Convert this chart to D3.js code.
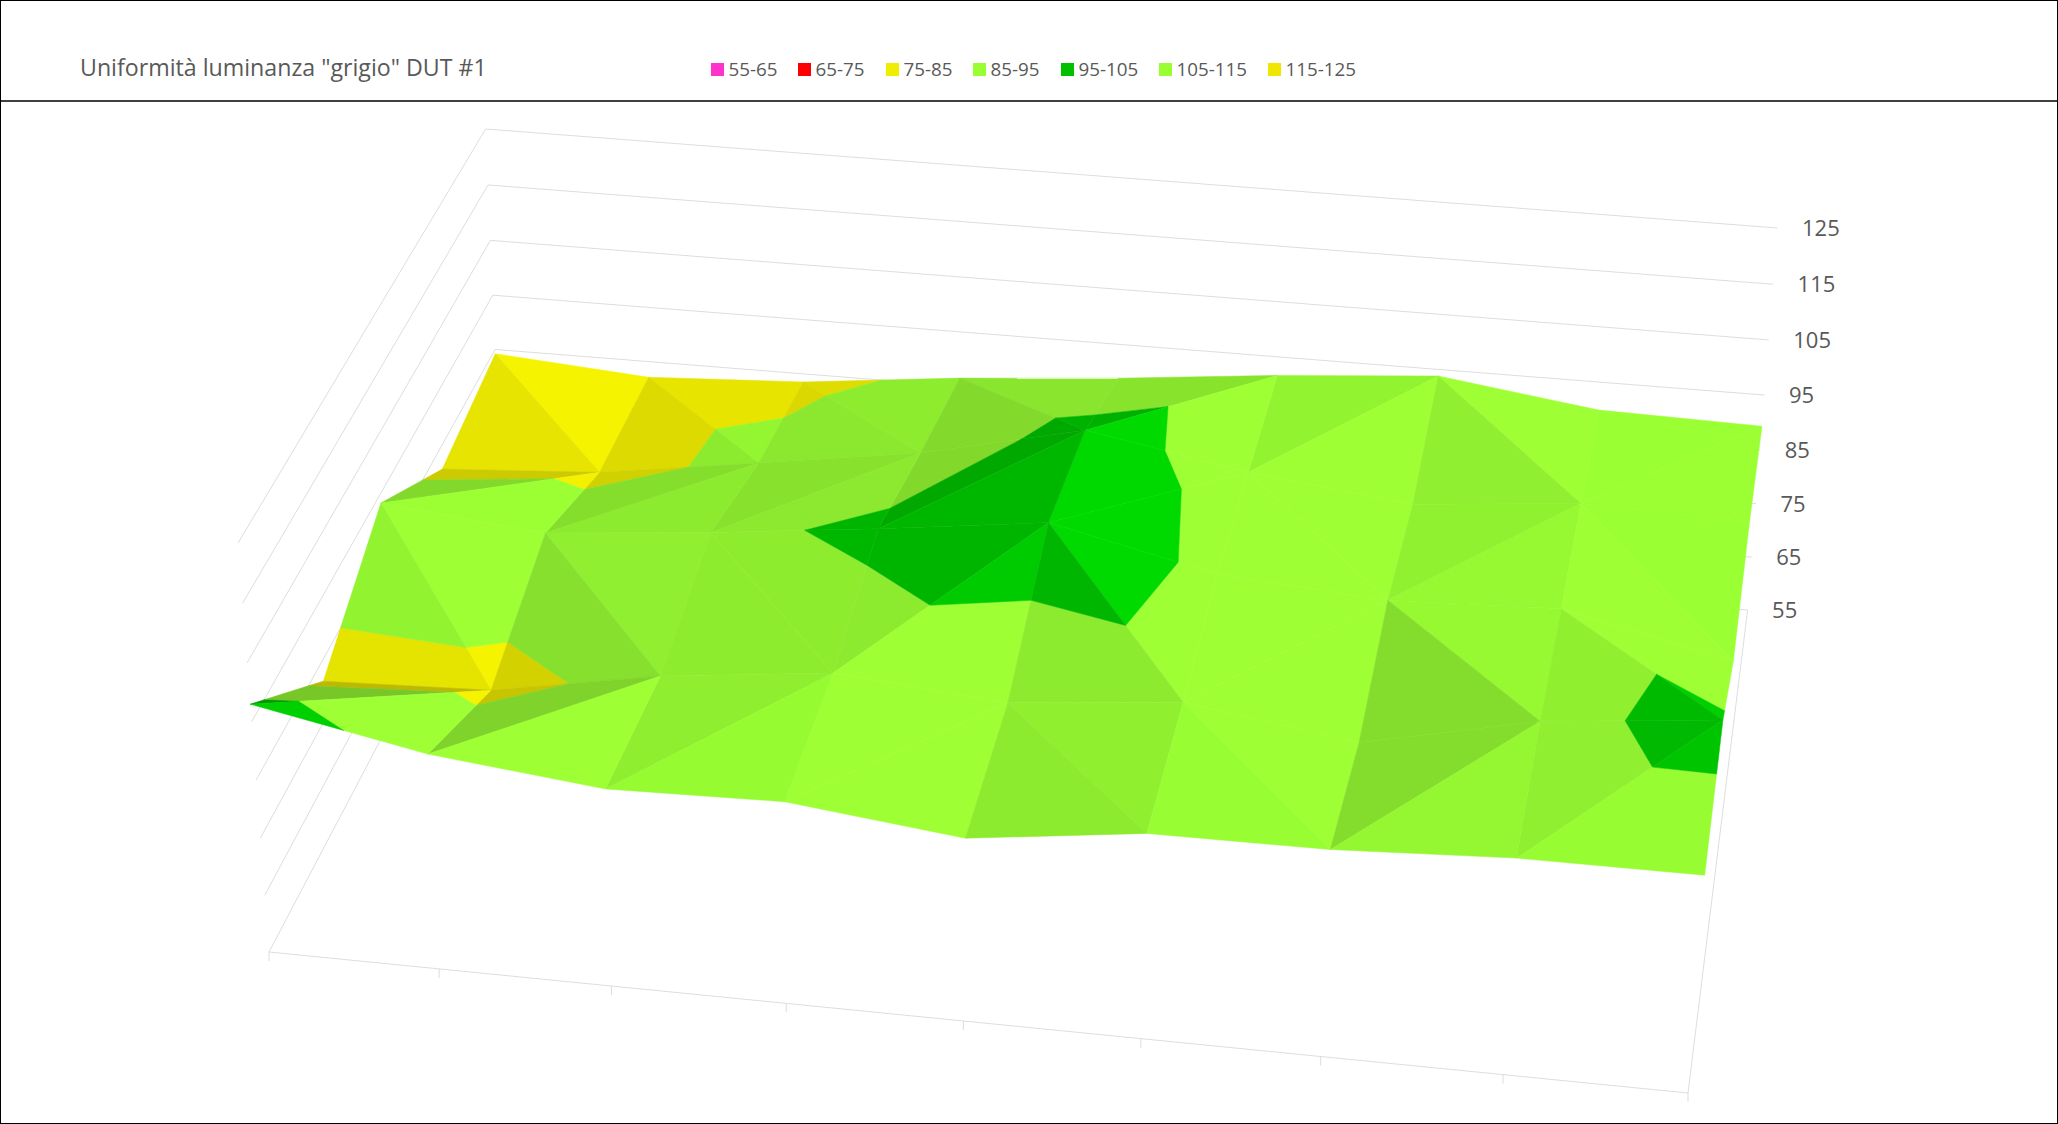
<!DOCTYPE html>
<html><head><meta charset="utf-8">
<script src="https://cdn.jsdelivr.net/npm/d3@7/dist/d3.min.js"></script>
<style>html,body{margin:0;padding:0;background:#fff}svg{display:block}text{font-family:"Open Sans",sans-serif}</style>
</head><body><svg id="c" width="2058" height="1124"></svg>
<script>
const title='Uniformità luminanza "grigio" DUT #1';
const levels=[55,65,75,85,95,105,115,125];
const bandLabels=["55-65","65-75","75-85","85-95","95-105","105-115","115-125"];
const bandColors=["#FF33CC","#FF0000","#F0EE00","#99FF33","#00C000","#99FF33","#F0E600"];
const legendX=[711,798,886,973,1061,1159,1268];
const row0=[98,92.3,89.2,89.9,86.6,90.3,90.5,92,92.1];
const row1=[81.5,82.6,87.8,91,88.6,91.4,87.2,93.6,96.6];
const row2=[93.4,90.6,93.2,96.4,100,93.5,91.5,92.6,86];
const row3=[80.9,82.7,86.8,91,97.5,92.4,89.1,91.7,90.9];
const row4=[84.2,82.1,83.5,86.5,88.8,91.6,93.8,89.9,89.3];
const zv=[row0,row1,row2,row3,row4];
const diag=["aaaabbaa","bbbababb","aaaaabab","bbbbaaba"];
const nc=9,nr=5;
const A=[269,952],B=[1688,1093],C=[1747.6,610],D=[502,509];
const E=[238,543],F=[1720,675],G=[1777.5,228],H=[485.6,129];
function quad(p0,p1,p2,p3){const [x0,y0]=p0,[x1,y1]=p1,[x2,y2]=p2,[x3,y3]=p3;
 const sx=x0-x1+x2-x3,sy=y0-y1+y2-y3,dx1=x1-x2,dx2=x3-x2,dy1=y1-y2,dy2=y3-y2,den=dx1*dy2-dx2*dy1;
 const g=(sx*dy2-dx2*sy)/den,h=(dx1*sy-sx*dy1)/den;
 const a=x1-x0+g*x1,b=x3-x0+h*x3,c=x0,d=y1-y0+g*y1,e=y3-y0+h*y3,f=y0;
 return (u,v)=>{const w=g*u+h*v+1;return [(a*u+b*v+c)/w,(d*u+e*v+f)/w];};}
const floorAt=quad(A,B,C,D),topAt=quad(E,F,G,H);
const S=-0.035;
const uScale=d3.scaleLinear().domain([0,4,8]).range([0,0.503,1]);
const vScale=d3.scaleLinear().domain([0,nr-1]).range([0,1]);
const zScale=d3.scaleLinear().domain([55,125]).range([0,1]);
function project(i,j,z){const u=uScale(i),v=vScale(j),t=zScale(z),w=t*(1+S)/(1+S*t);
 const a=floorAt(u,v),b=topAt(u,v);return [a[0]+(b[0]-a[0])*w,a[1]+(b[1]-a[1])*w];}
const svg=d3.select("#c");
const grid=svg.append("g").attr("stroke","#D9D9D9").attr("stroke-width",0.9).attr("fill","none");
const line=d3.line();
levels.forEach(l=>{
 grid.append("path").attr("d",line([project(0,4,l),project(8,4,l)]));
 grid.append("path").attr("d",line([project(0,0,l),project(0,4,l)]));
});
grid.append("path").attr("d",line([project(0,0,55),project(8,0,55)]));
grid.append("path").attr("d",line([project(8,0,55),project(8,4,55)]));
d3.range(nc).forEach(i=>{const p=project(i,0,55);grid.append("path").attr("d",line([p,[p[0],p[1]+9]]));});
const tris=[];
diag.forEach((s,j)=>{for(let i=0;i<nc-1;i++){
 const p=(a,b)=>[i+a,j+b,zv[j+b][i+a]];
 if(s[i]==="a"){tris.push([p(0,0),p(1,0),p(1,1)]);tris.push([p(0,0),p(1,1),p(0,1)]);}
 else{tris.push([p(0,1),p(0,0),p(1,0)]);tris.push([p(0,1),p(1,0),p(1,1)]);}
}});
tris.sort((a,b)=>d3.sum(b,q=>q[1])-d3.sum(a,q=>q[1]));
function clip(poly,lo,hi){
 const cut=(pts,keep,val)=>{const o=[];pts.forEach((p,k)=>{const q=pts[(k+1)%pts.length];const kp=keep(p[2]),kq=keep(q[2]);
  if(kp)o.push(p);if(kp!==kq){const t=(val-p[2])/(q[2]-p[2]);o.push([p[0]+(q[0]-p[0])*t,p[1]+(q[1]-p[1])*t,val]);}});return o;};
 let r=cut(poly,z=>z>=lo,lo);if(r.length)r=cut(r,z=>z<=hi,hi);return r;}
function shade(t){const [a,b,c]=t;
 const ux=b[0]-a[0],uy=b[1]-a[1],uz=b[2]-a[2],vx=c[0]-a[0],vy=c[1]-a[1],vz=c[2]-a[2];
 const nx=uy*vz-uz*vy,ny=uz*vx-ux*vz,nz=ux*vy-uy*vx;
 const sx=-nx/nz,sy=-ny/nz;
 return 1-0.02*sx-(sy<0?0.00073*sy*sy:0.002*sy);}
const caps=[1,1,1.02,1.04,1.1,1.04,1.02],gains=[1,1,1,1,1.03,1,1];
const surf=svg.append("g");
tris.forEach(t=>{const f=shade(t);
 d3.range(bandColors.length).forEach(k=>{const pl=clip(t,levels[k],levels[k+1]);if(pl.length<3)return;
  const base=d3.rgb(bandColors[k]);const m=Math.min(f,caps[k])*gains[k];
  const col=d3.rgb(base.r*m,base.g*m,base.b*m).formatHex();
  surf.append("path").attr("d",line(pl.map(q=>project(q[0],q[1],q[2])))+"Z").attr("fill",col).attr("stroke",col).attr("stroke-width",0.5);
 });});
levels.forEach(l=>{const p=project(8,4,l);svg.append("text").attr("x",p[0]+24.5).attr("y",p[1]-1).attr("dominant-baseline","central").attr("font-size",22).attr("fill","#595959").text(l);});
svg.append("text").attr("x",80).attr("y",76).attr("font-size",23.2).attr("fill","#595959").text(title);
bandLabels.forEach((b,k)=>{svg.append("rect").attr("x",legendX[k]).attr("y",63).attr("width",13).attr("height",13).attr("fill",bandColors[k]);
 svg.append("text").attr("x",legendX[k]+17.5).attr("y",76).attr("font-size",18.8).attr("fill","#595959").text(b);});
svg.append("rect").attr("x",0.5).attr("y",0.5).attr("width",2057).attr("height",1123).attr("fill","none").attr("stroke","#000");
svg.append("line").attr("x1",0).attr("x2",2058).attr("y1",101).attr("y2",101).attr("stroke","#000").attr("stroke-width",1.5);
</script></body></html>
